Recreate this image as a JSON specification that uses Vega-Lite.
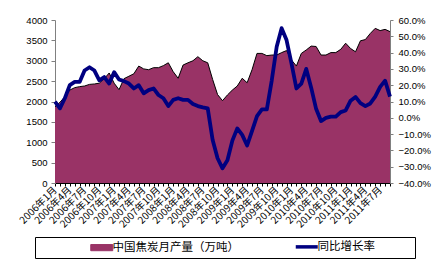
{
  "$schema": "https://vega.github.io/schema/vega-lite/v6.json",
  "width": 335,
  "height": 163,
  "autosize": {"type": "none"},
  "padding": {"left": 55, "top": 20, "right": 53, "bottom": 76},
  "background": "white",
  "config": {"view": {"stroke": null}, "axis": {"grid": false}},
  "data": {"values": [
    {"m": "2006年1月", "output": 1870, "growth": 9.9},
    {"m": "2006年2月", "output": 1980, "growth": 5.8},
    {"m": "2006年3月", "output": 2120, "growth": 12},
    {"m": "2006年4月", "output": 2280, "growth": 20},
    {"m": "2006年5月", "output": 2340, "growth": 22},
    {"m": "2006年6月", "output": 2365, "growth": 22},
    {"m": "2006年7月", "output": 2380, "growth": 29},
    {"m": "2006年8月", "output": 2420, "growth": 31},
    {"m": "2006年9月", "output": 2430, "growth": 29},
    {"m": "2006年10月", "output": 2450, "growth": 23},
    {"m": "2006年11月", "output": 2560, "growth": 25},
    {"m": "2006年12月", "output": 2700, "growth": 21},
    {"m": "2007年1月", "output": 2450, "growth": 28},
    {"m": "2007年2月", "output": 2290, "growth": 23.5},
    {"m": "2007年3月", "output": 2560, "growth": 22.5},
    {"m": "2007年4月", "output": 2620, "growth": 21},
    {"m": "2007年5月", "output": 2680, "growth": 18},
    {"m": "2007年6月", "output": 2870, "growth": 20},
    {"m": "2007年7月", "output": 2800, "growth": 15},
    {"m": "2007年8月", "output": 2780, "growth": 17},
    {"m": "2007年9月", "output": 2830, "growth": 18},
    {"m": "2007年10月", "output": 2830, "growth": 14},
    {"m": "2007年11月", "output": 2880, "growth": 12},
    {"m": "2007年12月", "output": 2950, "growth": 7.2},
    {"m": "2008年1月", "output": 2730, "growth": 11},
    {"m": "2008年2月", "output": 2570, "growth": 12},
    {"m": "2008年3月", "output": 2895, "growth": 11},
    {"m": "2008年4月", "output": 2950, "growth": 11},
    {"m": "2008年5月", "output": 3000, "growth": 8.5},
    {"m": "2008年6月", "output": 3100, "growth": 7.2},
    {"m": "2008年7月", "output": 3000, "growth": 6.4},
    {"m": "2008年8月", "output": 2950, "growth": 5.8},
    {"m": "2008年9月", "output": 2540, "growth": -13.6},
    {"m": "2008年10月", "output": 2170, "growth": -24.8},
    {"m": "2008年11月", "output": 2020, "growth": -31},
    {"m": "2008年12月", "output": 2160, "growth": -26},
    {"m": "2009年1月", "output": 2280, "growth": -14},
    {"m": "2009年2月", "output": 2380, "growth": -6.5},
    {"m": "2009年3月", "output": 2570, "growth": -10.5},
    {"m": "2009年4月", "output": 2460, "growth": -17},
    {"m": "2009年5月", "output": 2780, "growth": -8},
    {"m": "2009年6月", "output": 3180, "growth": 1},
    {"m": "2009年7月", "output": 3180, "growth": 5.2},
    {"m": "2009年8月", "output": 3125, "growth": 5.2},
    {"m": "2009年9月", "output": 3140, "growth": 23},
    {"m": "2009年10月", "output": 3140, "growth": 43.6},
    {"m": "2009年11月", "output": 3200, "growth": 55},
    {"m": "2009年12月", "output": 3250, "growth": 47.7},
    {"m": "2010年1月", "output": 3020, "growth": 33.4},
    {"m": "2010年2月", "output": 2870, "growth": 18},
    {"m": "2010年3月", "output": 3180, "growth": 21},
    {"m": "2010年4月", "output": 3265, "growth": 30},
    {"m": "2010年5月", "output": 3360, "growth": 18.5},
    {"m": "2010年6月", "output": 3350, "growth": 5.5},
    {"m": "2010年7月", "output": 3140, "growth": -2},
    {"m": "2010年8月", "output": 3140, "growth": 0},
    {"m": "2010年9月", "output": 3200, "growth": 0.7},
    {"m": "2010年10月", "output": 3200, "growth": 0.7},
    {"m": "2010年11月", "output": 3280, "growth": 3.5},
    {"m": "2010年12月", "output": 3430, "growth": 4.5},
    {"m": "2011年1月", "output": 3300, "growth": 10.5},
    {"m": "2011年2月", "output": 3220, "growth": 12.8},
    {"m": "2011年3月", "output": 3490, "growth": 9},
    {"m": "2011年4月", "output": 3520, "growth": 7.2},
    {"m": "2011年5月", "output": 3670, "growth": 8.8},
    {"m": "2011年6月", "output": 3795, "growth": 13},
    {"m": "2011年7月", "output": 3740, "growth": 19},
    {"m": "2011年8月", "output": 3770, "growth": 22.8},
    {"m": "2011年9月", "output": 3715, "growth": 13}
  ]},
  "encoding": {
    "x": {
      "field": "m", "type": "ordinal", "sort": null, "title": null,
      "scale": {"type": "point", "padding": 0},
      "axis": {
        "labelAngle": -45, "labelAlign": "right", "labelBaseline": "middle",
        "labelExpr": "test(regexp('年(1|4|7|10)月$'), datum.label) ? datum.label : ''",
        "labelFont": "Noto Sans CJK SC", "labelFontSize": 10, "labelColor": "black",
        "labelOverlap": false, "labelBound": false, "labelPadding": 2,
        "tickSize": 3, "tickColor": "black", "domainColor": "black"
      }
    }
  },
  "layer": [
    {
      "encoding": {
        "y": {
          "field": "output", "type": "quantitative", "title": null,
          "scale": {"domain": [0, 4000], "nice": false, "zero": true},
          "axis": {
            "values": [0, 500, 1000, 1500, 2000, 2500, 3000, 3500, 4000],
            "format": "d",
            "labelFont": "Liberation Sans", "labelFontSize": 9.5, "labelColor": "black",
            "domainColor": "#808080", "tickColor": "#808080", "tickSize": 4, "labelPadding": 4
          }
        }
      },
      "layer": [
        {
          "mark": {"type": "area", "opacity": 1},
          "encoding": {
            "color": {
              "datum": "中国焦炭月产量（万吨）",
              "scale": {"domain": ["中国焦炭月产量（万吨）", "同比增长率"], "range": ["#993366", "#000080"]},
              "legend": {
                "orient": "none", "legendX": -20, "legendY": 217, "direction": "horizontal",
                "title": "⠀⠀⠀⠀⠀⠀⠀", "titleOrient": "left", "titleFont": "DejaVu Sans", "titleFontSize": 10, "titlePadding": 2,
                "padding": 4, "strokeColor": "black", "fillColor": "white",
                "symbolSize": 484, "symbolType": "square", "labelFont": "Noto Sans CJK SC", "labelFontSize": 11.5, "labelColor": "black",
                "columnPadding": 49, "labelOffset": 5,
                "labelExpr": "datum.label == '同比增长率' ? datum.label + '⠀⠀⠀⠀' : datum.label",
                "encode": {
                  "symbols": {
                    "update": {
                      "shape": {"signal": "datum.index == 1 ? 'stroke' : 'M-1,-0.28H1V0.28H-1Z'"},
                      "fill": {"signal": "datum.index == 1 ? 'transparent' : '#993366'"},
                      "stroke": {"signal": "datum.index == 1 ? '#000080' : 'black'"},
                      "strokeWidth": {"signal": "datum.index == 1 ? 3.5 : 1"},
                      "opacity": {"value": 1}
                    }
                  }
                }
              }
            }
          }
        },
        {
          "mark": {"type": "line", "color": "black", "strokeWidth": 1},
          "encoding": {}
        }
      ]
    },
    {
      "mark": {"type": "line", "strokeWidth": 3.8, "strokeJoin": "round"},
      "encoding": {
        "y": {
          "field": "growth", "type": "quantitative", "title": null,
          "scale": {"domain": [-40, 60], "nice": false, "zero": false},
          "axis": {
            "orient": "right",
            "values": [-40, -30, -20, -10, 0, 10, 20, 30, 40, 50, 60],
            "labelExpr": "format(datum.value, '.1f') + '%'",
            "labelFont": "Liberation Sans", "labelFontSize": 9.5, "labelColor": "black",
            "domainColor": "#808080", "tickColor": "#808080", "tickSize": 3, "labelPadding": 5
          }
        },
        "color": {
          "datum": "同比增长率",
          "legend": {
            "orient": "none", "legendX": -20, "legendY": 217, "direction": "horizontal",
            "title": "⠀⠀⠀⠀⠀⠀⠀", "titleOrient": "left", "titleFont": "DejaVu Sans", "titleFontSize": 10, "titlePadding": 2,
            "padding": 4, "strokeColor": "black", "fillColor": "white",
            "symbolSize": 484, "symbolType": "square", "labelFont": "Noto Sans CJK SC", "labelFontSize": 11.5, "labelColor": "black",
            "columnPadding": 49, "labelOffset": 5,
            "labelExpr": "datum.label == '同比增长率' ? datum.label + '⠀⠀⠀⠀' : datum.label",
            "encode": {
              "symbols": {
                "update": {
                  "shape": {"signal": "datum.index == 1 ? 'stroke' : 'M-1,-0.28H1V0.28H-1Z'"},
                  "fill": {"signal": "datum.index == 1 ? 'transparent' : '#993366'"},
                  "stroke": {"signal": "datum.index == 1 ? '#000080' : 'black'"},
                  "strokeWidth": {"signal": "datum.index == 1 ? 3.5 : 1"},
                  "opacity": {"value": 1}
                }
              }
            }
          }
        }
      }
    }
  ],
  "resolve": {"scale": {"y": "independent"}}
}
